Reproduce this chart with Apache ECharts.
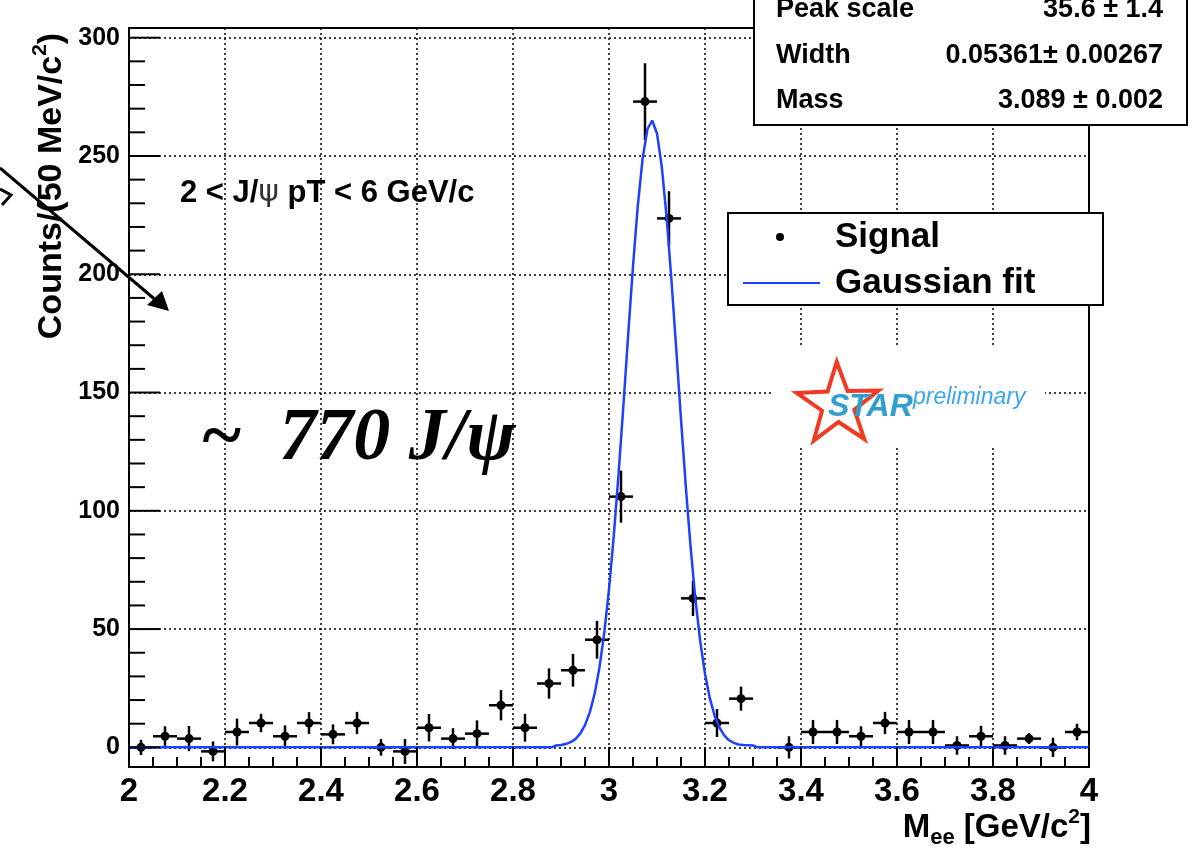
<!DOCTYPE html>
<html>
<head>
<meta charset="utf-8">
<script src="https://cdn.jsdelivr.net/npm/echarts@6/dist/echarts.min.js"></script>
<style>
  html, body { margin: 0; padding: 0; background: #fff; }
  #chart { width: 1203px; height: 851px; }
</style>
</head>
<body>
<div id="chart"></div>
<script>
// bin centres of the M_ee histogram (50 MeV bins)
const binCenters = [
  2.025, 2.075, 2.125, 2.175, 2.225, 2.275, 2.325, 2.375, 2.425, 2.475,
  2.525, 2.575, 2.625, 2.675, 2.725, 2.775, 2.825, 2.875, 2.925, 2.975,
  3.025, 3.075, 3.125, 3.175, 3.225, 3.275, 3.325, 3.375, 3.425, 3.475,
  3.525, 3.575, 3.625, 3.675, 3.725, 3.775, 3.825, 3.875, 3.925, 3.975
]
// signal counts (null = empty bin, not drawn)
const counts = [
  0, 4.7, 3.7, -1.7, 6.5, 10.3, 4.7, 10.3, 5.5, 10.3,
  0, -1.7, 8.3, 3.7, 5.8, 17.8, 8.3, 27, 32.6, 45.5,
  106, 273, 223.6, 63, 10.3, 20.6, null, 0, 6.5, 6.5,
  4.7, 10.3, 6.5, 6.5, 0.8, 4.7, 0.8, 3.7, 0, 6.5
]
const errors = [
  3.2, 4.2, 5.3, 4.2, 5.7, 3.9, 4.6, 4.6, 4.2, 4.7,
  3.5, 5.3, 5.8, 4.4, 5.6, 6.4, 5.9, 6.4, 6.9, 8,
  11, 16.2, 11.5, 7.5, 5.9, 5.1, null, 4.7, 5.1, 5.1,
  4.2, 4.7, 5.1, 5.1, 3.9, 4.4, 3.9, 2.3, 4.1, 3.5
]
const halfBin = 0.025

// Gaussian fit curve
const fitX = [
  2.0, 2.88, 2.89, 2.90, 2.91, 2.92, 2.93, 2.94, 2.95, 2.96, 2.97,
  2.98, 2.99, 3.00, 3.01, 3.02, 3.03, 3.04, 3.05, 3.06, 3.07,
  3.08, 3.09, 3.10, 3.11, 3.12, 3.13, 3.14, 3.15, 3.16, 3.17,
  3.18, 3.19, 3.20, 3.21, 3.22, 3.23, 3.24, 3.25, 3.26, 3.27,
  3.28, 3.29, 3.30, 3.31, 4.0
]
const fitY = [
  0, 0, 0.8, 1.0, 1.4, 2.2, 3.5, 5.8, 9.4, 14.8, 22.6,
  33.6, 48.2, 66.8, 89.5, 115.8, 144.6, 174.5, 203.4, 228.9, 248.9,
  261.3, 265.0, 259.5, 245.4, 224.2, 197.8, 168.6, 138.7, 110.3, 84.6,
  62.7, 44.9, 31.1, 20.8, 13.4, 8.4, 5.1, 3.0, 1.9, 1.2,
  1.0, 0.9, 0.8, 0, 0
]

// axis ticks
const xMajorTicks = [2, 2.2, 2.4, 2.6, 2.8, 3, 3.2, 3.4, 3.6, 3.8, 4]
const xMinorTicks = [2.05, 2.1, 2.15, 2.25, 2.3, 2.35, 2.45, 2.5, 2.55, 2.65, 2.7, 2.75,
  2.85, 2.9, 2.95, 3.05, 3.1, 3.15, 3.25, 3.3, 3.35, 3.45, 3.5, 3.55,
  3.65, 3.7, 3.75, 3.85, 3.9, 3.95]
const yMajorTicks = [0, 50, 100, 150, 200, 250, 300]
const yMinorTicks = [10, 20, 30, 40, 60, 70, 80, 90, 110, 120, 130, 140, 160, 170, 180, 190,
  210, 220, 230, 240, 260, 270, 280, 290]
const X_MIN = 2
const X_MAX = 4
const Y_MIN = -8.3
const Y_MAX = 304.1

// fit box
const statNames = ['Peak scale', 'Width', 'Mass']
const statValues = ['35.6 \u00b1 1.4', '0.05361\u00b1 0.00267', '3.089 \u00b1 0.002']

const FONT = 'Liberation Sans, Arial, Helvetica, sans-serif'
const BLUE = '#1e40ff'
const GRID_DOTS = { color: '#000', width: 1.5, type: [2, 3] }

const chart = echarts.init(document.getElementById('chart'))

const pointData = []
binCenters.forEach((x, i) => {
  if (counts[i] !== null) pointData.push([x, counts[i], errors[i]])
})

// tick marks drawn inside the frame: [x, y, length px, 0 = y-axis tick / 1 = x-axis tick]
const tickData = yMajorTicks.map((v) => [X_MIN, v, 31, 0])
  .concat(yMinorTicks.map((v) => [X_MIN, v, 16, 0]))
  .concat(xMajorTicks.map((v) => [v, 0, 20, 1]))
  .concat(xMinorTicks.map((v) => [v, 0, 10, 1]))

// star outline for the STAR logo
const starPts = []
for (let k = 0; k < 10; k++) {
  const rad = k % 2 === 0 ? 43 : 17
  const a = -Math.PI / 2 + k * Math.PI / 5 - 0.03
  starPts.push([838 + rad * Math.cos(a), 405 + rad * Math.sin(a)])
}

const option = {
  backgroundColor: '#fff',
  animation: false,
  grid: {
    left: 129, right: 114, top: 28, bottom: 84,
    show: true, borderColor: '#000', borderWidth: 2
  },
  xAxis: {
    type: 'value',
    min: X_MIN, max: X_MAX,
    axisLine: { show: true, onZero: false, lineStyle: { color: '#000', width: 2 } },
    axisTick: { show: false, customValues: xMajorTicks },
    axisLabel: {
      show: true, color: '#000', fontSize: 33, fontWeight: 'bold', fontFamily: FONT, margin: 8,
      customValues: xMajorTicks,
      formatter: (v) => String(+(+v).toFixed(1))
    },
    splitLine: { show: true, lineStyle: GRID_DOTS }
  },
  yAxis: {
    type: 'value',
    min: Y_MIN, max: Y_MAX,
    axisLine: { show: true, onZero: false, lineStyle: { color: '#000', width: 2 } },
    axisTick: { show: false, customValues: yMajorTicks },
    axisLabel: {
      show: true, color: '#000', fontSize: 25, fontWeight: 'bold', fontFamily: FONT, margin: 9,
      customValues: yMajorTicks
    },
    splitLine: { show: true, lineStyle: GRID_DOTS }
  },
  series: [
    {
      name: 'ticks',
      type: 'custom',
      encode: { x: 0, y: 1 },
      zlevel: 1,
      z: 50,
      silent: true,
      data: tickData,
      renderItem: (params, api) => {
        const len = api.value(2)
        let shape
        if (api.value(3) === 1) {
          const p = api.coord([api.value(0), Y_MIN])
          shape = { x1: p[0], y1: p[1], x2: p[0], y2: p[1] - len }
        } else {
          const p = api.coord([X_MIN, api.value(1)])
          shape = { x1: p[0], y1: p[1], x2: p[0] + len, y2: p[1] }
        }
        return {
          type: 'group',
          children: [{ type: 'line', shape: shape, style: { stroke: '#000', lineWidth: 2 } }]
        }
      }
    },
    {
      name: 'Signal',
      type: 'custom',
      encode: { x: 0, y: 1 },
      z: 3,
      data: pointData,
      renderItem: (params, api) => {
        const x = api.value(0)
        const y = api.value(1)
        const e = api.value(2)
        const c = api.coord([x, y])
        const l = api.coord([x - halfBin, y])
        const r = api.coord([x + halfBin, y])
        const t = api.coord([x, y + e])
        const b = api.coord([x, y - e])
        const st = { stroke: '#000', lineWidth: 2.5 }
        return {
          type: 'group',
          children: [
            { type: 'line', shape: { x1: l[0], y1: l[1], x2: r[0], y2: r[1] }, style: st },
            { type: 'line', shape: { x1: t[0], y1: t[1], x2: b[0], y2: b[1] }, style: st },
            { type: 'circle', shape: { cx: c[0], cy: c[1], r: 4.5 }, style: { fill: '#000' } }
          ]
        }
      }
    },
    {
      name: 'Gaussian fit',
      type: 'line',
      z: 4,
      symbol: 'none',
      data: fitX.map((x, i) => [x, fitY[i]]),
      lineStyle: { color: BLUE, width: 2.5 }
    }
  ],
  graphic: [
    // y axis title
    {
      type: 'text', x: 52, y: 186, rotation: Math.PI / 2, z: 10,
      style: {
        text: 'Counts/(50 MeV/c{sup|2}{b|)}',
        fill: '#000', font: 'bold 34px ' + FONT, align: 'center', verticalAlign: 'middle',
        lineHeight: 44,
        rich: {
          sup: { fontSize: 21, fontWeight: 'bold', fontFamily: FONT, verticalAlign: 'top', lineHeight: 22 },
          b: { fontSize: 34, fontWeight: 'bold', fontFamily: FONT, lineHeight: 44 }
        }
      }
    },
    // x axis title
    {
      type: 'text', x: 1091, y: 828, z: 10,
      style: {
        text: 'M{sub|ee} [GeV/c{sup|2}{b|]}',
        fill: '#000', font: 'bold 33px ' + FONT, align: 'right', verticalAlign: 'middle',
        lineHeight: 42,
        rich: {
          sub: { fontSize: 22, fontWeight: 'bold', fontFamily: FONT, verticalAlign: 'bottom', lineHeight: 24 },
          sup: { fontSize: 21, fontWeight: 'bold', fontFamily: FONT, verticalAlign: 'top', lineHeight: 22 },
          b: { fontSize: 33, fontWeight: 'bold', fontFamily: FONT, lineHeight: 42 }
        }
      }
    },
    // pT range label
    {
      type: 'text', x: 180, y: 193, z: 10,
      style: {
        text: '2 < J/{p|\u03c8} pT < 6 GeV/c',
        fill: '#000', font: 'bold 31px ' + FONT, verticalAlign: 'middle',
        rich: { p: { fontSize: 31, fontWeight: 'normal', fontFamily: 'DejaVu Sans', fill: '#333' } }
      }
    },
    // yield label
    {
      type: 'text', x: 200, y: 440, z: 10,
      style: {
        text: '~  770 J/\u03c8',
        fill: '#000', font: 'italic bold 74px Liberation Serif, Times New Roman, serif', verticalAlign: 'middle'
      }
    },
    // fit parameter box
    {
      type: 'rect', z: 20,
      shape: { x: 754, y: -20, width: 433, height: 145 },
      style: { fill: '#fff', stroke: '#000', lineWidth: 2 }
    },
    ...statNames.map((n, i) => ({
      type: 'text', x: 776, y: 10 + i * 45.5, z: 21,
      style: { text: n, fill: '#000', font: 'bold 27px ' + FONT, verticalAlign: 'middle' }
    })),
    ...statValues.map((v, i) => ({
      type: 'text', x: 1163, y: 10 + i * 45.5, z: 21,
      style: { text: v, fill: '#000', font: 'bold 27px ' + FONT, align: 'right', verticalAlign: 'middle' }
    })),
    // legend
    {
      type: 'rect', z: 20,
      shape: { x: 728, y: 213, width: 375, height: 92 },
      style: { fill: '#fff', stroke: '#000', lineWidth: 2 }
    },
    { type: 'circle', z: 21, shape: { cx: 780, cy: 237, r: 4 }, style: { fill: '#000' } },
    {
      type: 'text', x: 835, y: 237, z: 21,
      style: { text: 'Signal', fill: '#000', font: 'bold 35px ' + FONT, verticalAlign: 'middle' }
    },
    { type: 'line', z: 21, shape: { x1: 743, y1: 283, x2: 820, y2: 283 }, style: { stroke: BLUE, lineWidth: 2 } },
    {
      type: 'text', x: 835, y: 283, z: 21,
      style: { text: 'Gaussian fit', fill: '#000', font: 'bold 35px ' + FONT, verticalAlign: 'middle' }
    },
    // STAR preliminary logo
    { type: 'rect', z: 15, shape: { x: 773, y: 347, width: 272, height: 100 }, style: { fill: '#fff' } },
    {
      type: 'polygon', z: 16, shape: { points: starPts },
      style: { fill: 'none', stroke: '#f03a22', lineWidth: 4, lineJoin: 'miter' }
    },
    {
      type: 'text', x: 828, y: 407, z: 17,
      style: { text: 'STAR', fill: '#2f9fd0', font: 'italic bold 32px ' + FONT, verticalAlign: 'middle' }
    },
    {
      type: 'text', x: 913, y: 398, z: 17,
      style: { text: 'preliminary', fill: '#3aa6f0', font: 'italic 23px ' + FONT, verticalAlign: 'middle' }
    },
    // annotation arrows
    {
      type: 'line', z: 12, shape: { x1: 0, y1: 168, x2: 158, y2: 302 },
      style: { stroke: '#000', lineWidth: 3 }
    },
    {
      type: 'polygon', z: 12, shape: { points: [[169, 311], [147, 305], [162, 291]] },
      style: { fill: '#000' }
    },
    {
      type: 'polyline', z: 12, shape: { points: [[0, 189], [11, 195], [2, 205]] },
      style: { stroke: '#000', lineWidth: 3, fill: 'none' }
    }
  ]
}

chart.setOption(option)
window.addEventListener('resize', () => chart.resize())
</script>
</body>
</html>
